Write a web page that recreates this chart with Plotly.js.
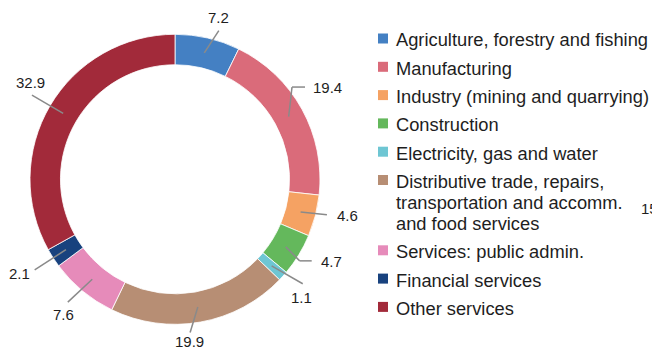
<!DOCTYPE html>
<html>
<head>
<meta charset="utf-8">
<script src="https://cdn.plot.ly/plotly-3.0.1.min.js"></script>
<style>
  html, body { margin: 0; padding: 0; background: #fff; }
  #chart { width: 652px; height: 354px; }
</style>
</head>
<body>
<div id="chart"></div>
<script>
// Gross value added by sector, share in %
const categories = [
  "Agriculture, forestry and fishing",
  "Manufacturing",
  "Industry (mining and quarrying)",
  "Construction",
  "Electricity, gas and water",
  "Distributive trade, repairs,<br>transportation and accomm.<br>and food services",
  "Services: public admin.",
  "Financial services",
  "Other services"
];
const shares = [7.2, 19.4, 4.6, 4.7, 1.1, 19.9, 7.6, 2.1, 32.9];
const sliceColors = [
  "#4480c3", "#da6b7a", "#f5a263", "#64b85c", "#6ec6d3",
  "#b78e74", "#e68bba", "#18427e", "#a22a3a"
];

// --- layout settings ---
const W = 652, H = 354;
const pieDomain = { x: [30 / W, 320 / W], y: [1 - 324.3 / H, 1 - 34.3 / H] };
const textFont = "Liberation Sans, Arial, Helvetica, sans-serif";
// value-label placement per slice: angular turn (deg) and reach of the leader
// line, optional horizontal elbow (px), angular turn and extra reach of the text
const labelLayout = [
  { turn: 3.4,  reach: 155, elbow: 0,  textTurn: 2.0,  textPad: 0 },
  { turn: -9.4, reach: 149, elbow: 13, textTurn: -2.3, textPad: 4 },
  { turn: -1.4, reach: 156, elbow: 0,  textTurn: -2.8, textPad: 0 },
  { turn: 1.8,  reach: 149, elbow: 12, textTurn: -3.5, textPad: 2 },
  { turn: -2.6, reach: 165, elbow: 0,  textTurn: 1.1,  textPad: 0 },
  { turn: 4.5,  reach: 154, elbow: 0,  textTurn: 5.1,  textPad: -2 },
  { turn: 1.5,  reach: 163, elbow: 0,  textTurn: -0.1, textPad: 4 },
  { turn: 0,    reach: 167, elbow: 0,  textTurn: 1.7,  textPad: 7 },
  { turn: 0,    reach: 166, elbow: 0,  textTurn: 3.4,  textPad: 0 }
];

const cx = (pieDomain.x[0] + pieDomain.x[1]) / 2 * W;
const cy = (1 - (pieDomain.y[0] + pieDomain.y[1]) / 2) * H;
const R = Math.min((pieDomain.x[1] - pieDomain.x[0]) * W, (pieDomain.y[1] - pieDomain.y[0]) * H) / 2;

const px = x => x / W;
const py = y => 1 - y / H;
const deg = Math.PI / 180;

const total = shares.reduce((a, b) => a + b, 0);
const shapes = [];
const annotations = [];

function segment(x0, y0, x1, y1) {
  shapes.push({
    type: "line", xref: "paper", yref: "paper",
    x0: px(x0), y0: py(y0), x1: px(x1), y1: py(y1),
    line: { color: "#8a8a8a", width: 1.5 }
  });
}

// value labels with leader lines, based on each slice's mid angle
let cum = 0;
shares.forEach((v, i) => {
  const L = labelLayout[i];
  const mid = (cum + v / 2) / total * 2 * Math.PI;
  cum += v;
  const r0 = 0.895 * R;
  const x0 = cx + r0 * Math.sin(mid), y0 = cy - r0 * Math.cos(mid);
  const la = mid + L.turn * deg;
  const x1 = cx + L.reach * Math.sin(la), y1 = cy - L.reach * Math.cos(la);
  segment(x0, y0, x1, y1);
  if (L.elbow) {
    const side = Math.sin(la) >= 0 ? 1 : -1;
    segment(x1, y1, x1 + side * L.elbow, y1);
  }
  const ta = mid + L.textTurn * deg;
  const rt = 1.131 * R + 12 * Math.abs(Math.sin(ta)) + L.textPad;
  annotations.push({
    xref: "paper", yref: "paper", showarrow: false,
    x: px(cx + rt * Math.sin(ta)), y: py(cy - rt * Math.cos(ta)),
    xanchor: "center", yanchor: "middle",
    text: v.toFixed(1),
    font: { family: textFont, size: 15, color: "#1e1e1e" }
  });
});

// legend: colour squares with category names
const legendX = 378, legendTextX = 394, legendTop = 40;
const rowStep = 28.3, lineStep = 21;
let rowY = legendTop;
categories.forEach((name, i) => {
  const lines = name.split("<br>");
  shapes.push({
    type: "rect", xref: "paper", yref: "paper",
    x0: px(legendX), x1: px(legendX + 10),
    y0: py(rowY - 6.5), y1: py(rowY + 3.5),
    fillcolor: sliceColors[i], line: { width: 0 }
  });
  lines.forEach((ln, j) => {
    annotations.push({
      xref: "paper", yref: "paper", showarrow: false,
      x: px(legendTextX), y: py(rowY + j * lineStep),
      xanchor: "left", yanchor: "middle",
      text: ln,
      font: { family: textFont, size: 18.3, color: "#1e1e1e" }
    });
  });
  rowY += (lines.length - 1) * lineStep + rowStep;
});

// edge of a neighbouring label
annotations.push({
  xref: "paper", yref: "paper", showarrow: false,
  x: px(639), y: py(208), xanchor: "left", yanchor: "middle",
  text: "15", font: { family: textFont, size: 15, color: "#1e1e1e" }
});

const trace = {
  type: "pie",
  labels: categories.map(c => c.replace(/<br>/g, " ")),
  values: shares,
  sort: false,
  direction: "clockwise",
  rotation: 0,
  hole: 0.79,
  domain: pieDomain,
  textinfo: "none",
  hoverinfo: "label+value",
  showlegend: false,
  marker: { colors: sliceColors, line: { color: "#ffffff", width: 0.8 } }
};

Plotly.newPlot("chart", [trace], {
  width: W, height: H,
  margin: { l: 0, r: 0, t: 0, b: 0 },
  paper_bgcolor: "#ffffff",
  showlegend: false,
  shapes: shapes,
  annotations: annotations
}, { displayModeBar: false, staticPlot: true });
</script>
</body>
</html>
